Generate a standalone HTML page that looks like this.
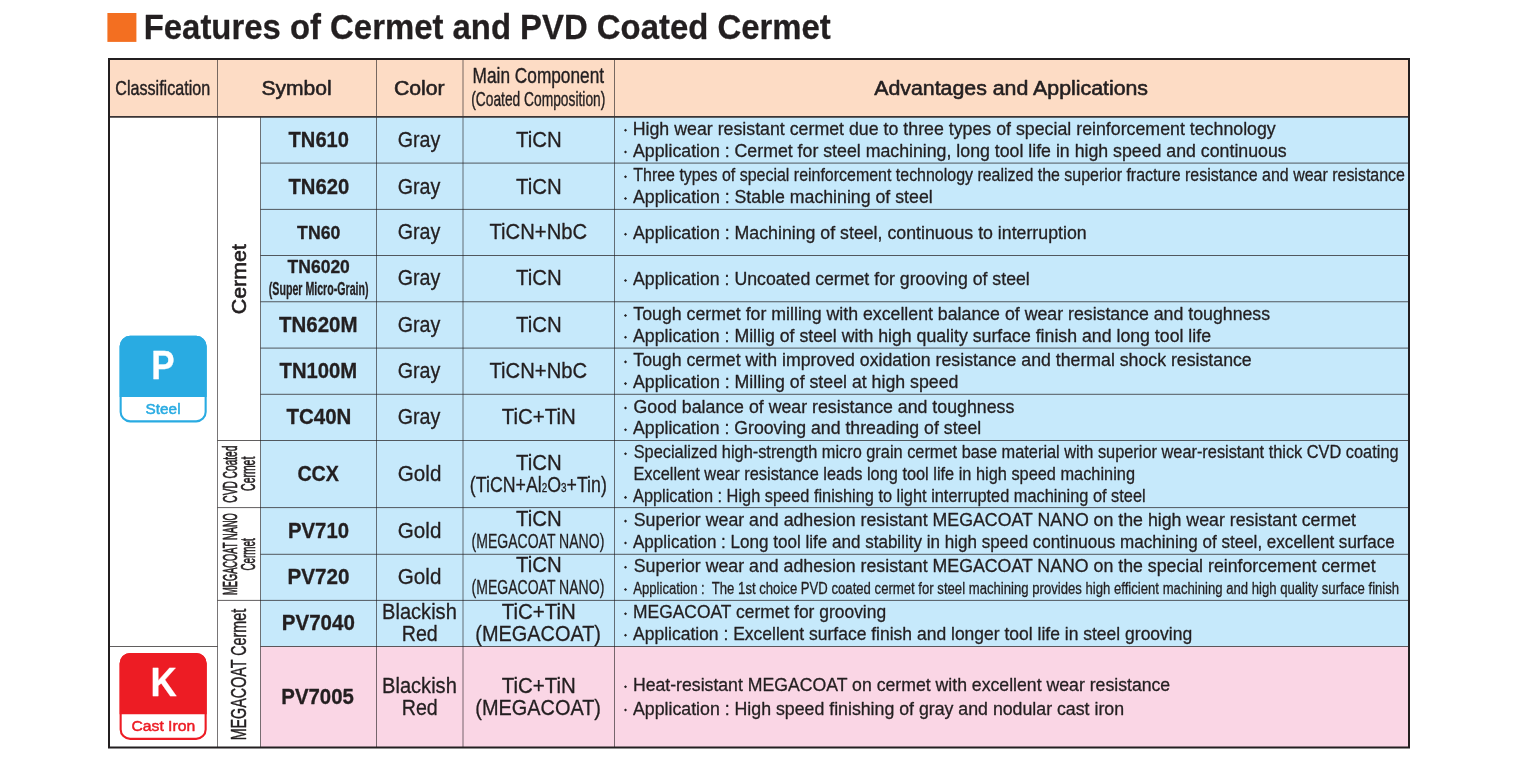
<!DOCTYPE html>
<html><head><meta charset="utf-8"><title>Features of Cermet and PVD Coated Cermet</title>
<style>
html,body{margin:0;padding:0;background:#fff}
body{width:1517px;height:763px;overflow:hidden}
svg{display:block;will-change:transform}
text{font-family:"Liberation Sans",sans-serif;white-space:pre}
</style></head><body>
<svg width="1517" height="763" viewBox="0 0 1517 763">
<g shape-rendering="auto">
<rect x="107.4" y="13" width="29" height="28.9" fill="#f36f21"/>
<rect x="109.0" y="59.0" width="1300.0" height="57.900000000000006" fill="#fddcc5"/>
<rect x="260.5" y="116.9" width="1148.5" height="529.6" fill="#c6e9fb"/>
<rect x="260.5" y="646.5" width="1148.5" height="101" fill="#fad6e5"/>
<path d="M217.5 59V747.5" stroke="#231f20" stroke-width="0.62"/>
<path d="M260.5 116.9V747.5" stroke="#231f20" stroke-width="0.62"/>
<path d="M376.5 59V747.5" stroke="#231f20" stroke-width="0.62"/>
<path d="M463 59V747.5" stroke="#231f20" stroke-width="0.62"/>
<path d="M614.5 59V747.5" stroke="#231f20" stroke-width="0.62"/>
<rect x="109.0" y="116" width="1300.0" height="1.75" fill="#3a3435"/>
<path d="M260.5 163.1H1409" stroke="#231f20" stroke-width="0.72"/>
<path d="M260.5 209.4H1409" stroke="#231f20" stroke-width="0.72"/>
<path d="M260.5 255.5H1409" stroke="#231f20" stroke-width="0.72"/>
<path d="M260.5 301.75H1409" stroke="#231f20" stroke-width="0.72"/>
<path d="M260.5 348.1H1409" stroke="#231f20" stroke-width="0.72"/>
<path d="M260.5 394.3H1409" stroke="#231f20" stroke-width="0.72"/>
<path d="M217.5 440.5H1409" stroke="#231f20" stroke-width="0.72"/>
<path d="M217.5 507.6H1409" stroke="#231f20" stroke-width="0.72"/>
<path d="M260.5 554.3H1409" stroke="#231f20" stroke-width="0.72"/>
<path d="M217.5 600.4H1409" stroke="#231f20" stroke-width="0.72"/>
<path d="M109 646.5H217.5" stroke="#231f20" stroke-width="0.72"/>
<path d="M260.5 646.5H1409" stroke="#231f20" stroke-width="0.72"/>
<rect x="109.0" y="59.0" width="1300.0" height="688.5" fill="none" stroke="#231f20" stroke-width="2"/>
<rect x="120.65" y="336.85" width="85" height="84.5" rx="9.45" fill="#fff" stroke="#29abe2" stroke-width="2.1"/>
<path d="M119.6 396.9V346.3A10.5 10.5 0 0 1 130.1 335.8H196.2A10.5 10.5 0 0 1 206.7 346.3V396.9Z" fill="#29abe2"/>
<rect x="120.65" y="653.95" width="85" height="84.9" rx="9.45" fill="#fff" stroke="#ed1c24" stroke-width="2.1"/>
<path d="M119.6 714.2V663.4A10.5 10.5 0 0 1 130.1 652.9H196.2A10.5 10.5 0 0 1 206.7 663.4V714.2Z" fill="#ed1c24"/>
<path d="M625.5 128.75l1.55 1.55l-1.55 1.55l-1.55 -1.55z" fill="#231f20"/>
<path d="M625.5 150.45l1.55 1.55l-1.55 1.55l-1.55 -1.55z" fill="#231f20"/>
<path d="M625.5 175.15l1.55 1.55l-1.55 1.55l-1.55 -1.55z" fill="#231f20"/>
<path d="M625.5 196.95l1.55 1.55l-1.55 1.55l-1.55 -1.55z" fill="#231f20"/>
<path d="M625.5 232.65l1.55 1.55l-1.55 1.55l-1.55 -1.55z" fill="#231f20"/>
<path d="M625.5 278.95l1.55 1.55l-1.55 1.55l-1.55 -1.55z" fill="#231f20"/>
<path d="M625.5 313.95l1.55 1.55l-1.55 1.55l-1.55 -1.55z" fill="#231f20"/>
<path d="M625.5 335.65l1.55 1.55l-1.55 1.55l-1.55 -1.55z" fill="#231f20"/>
<path d="M625.5 360.35l1.55 1.55l-1.55 1.55l-1.55 -1.55z" fill="#231f20"/>
<path d="M625.5 382.05l1.55 1.55l-1.55 1.55l-1.55 -1.55z" fill="#231f20"/>
<path d="M625.5 406.45l1.55 1.55l-1.55 1.55l-1.55 -1.55z" fill="#231f20"/>
<path d="M625.5 428.15l1.55 1.55l-1.55 1.55l-1.55 -1.55z" fill="#231f20"/>
<path d="M625.5 452.15l1.55 1.55l-1.55 1.55l-1.55 -1.55z" fill="#231f20"/>
<path d="M625.5 495.85l1.55 1.55l-1.55 1.55l-1.55 -1.55z" fill="#231f20"/>
<path d="M625.5 519.55l1.55 1.55l-1.55 1.55l-1.55 -1.55z" fill="#231f20"/>
<path d="M625.5 541.45l1.55 1.55l-1.55 1.55l-1.55 -1.55z" fill="#231f20"/>
<path d="M625.5 565.75l1.55 1.55l-1.55 1.55l-1.55 -1.55z" fill="#231f20"/>
<path d="M625.5 587.95l1.55 1.55l-1.55 1.55l-1.55 -1.55z" fill="#231f20"/>
<path d="M625.5 612.15l1.55 1.55l-1.55 1.55l-1.55 -1.55z" fill="#231f20"/>
<path d="M625.5 633.65l1.55 1.55l-1.55 1.55l-1.55 -1.55z" fill="#231f20"/>
<path d="M625.5 685.15l1.55 1.55l-1.55 1.55l-1.55 -1.55z" fill="#231f20"/>
<path d="M625.5 708.45l1.55 1.55l-1.55 1.55l-1.55 -1.55z" fill="#231f20"/>
</g>
<g fill="#231f20" stroke="#231f20" stroke-width="0.3" stroke-linejoin="round">
<text transform="translate(143.75 38.6) scale(0.9267 1)" font-size="35.49" font-weight="bold">Features of Cermet and PVD Coated Cermet</text>
<text transform="translate(115.32 95.2) scale(0.7763 1)" font-size="20.75" stroke-width="0.45">Classification</text>
<text transform="translate(261.5 95.2) scale(1.0149 1)" font-size="20.75" stroke-width="0.6">Symbol</text>
<text transform="translate(393.88 95.2) scale(1.0241 1)" font-size="20.75" stroke-width="0.6">Color</text>
<text transform="translate(472.6 82.9) scale(0.7974 1)" font-size="21.65" stroke-width="0.4">Main Component</text>
<text transform="translate(471.23 106) scale(0.6697 1)" font-size="20.6" stroke-width="0.4">(Coated Composition)</text>
<text transform="translate(874.2 95.2) scale(1.0282 1)" font-size="20.75" stroke-width="0.6">Advantages and Applications</text>
<text transform="translate(288.6 146.9) scale(0.9416 1)" font-size="21.35" font-weight="bold">TN610</text>
<text transform="translate(288.4 194.3) scale(0.9495 1)" font-size="21.35" font-weight="bold">TN620</text>
<text transform="translate(279 331.7) scale(0.9598 1)" font-size="21.35" font-weight="bold">TN620M</text>
<text transform="translate(279.6 377.5) scale(0.9487 1)" font-size="21.35" font-weight="bold">TN100M</text>
<text transform="translate(286.5 424.1) scale(0.9593 1)" font-size="21.35" font-weight="bold">TC40N</text>
<text transform="translate(297.4 481) scale(0.9230 1)" font-size="21.35" font-weight="bold">CCX</text>
<text transform="translate(287.95 537.8) scale(0.9532 1)" font-size="21.35" font-weight="bold">PV710</text>
<text transform="translate(287.43 584) scale(0.9676 1)" font-size="21.35" font-weight="bold">PV720</text>
<text transform="translate(281.74 629.9) scale(0.9624 1)" font-size="21.35" font-weight="bold">PV7040</text>
<text transform="translate(281.35 703.8) scale(0.9549 1)" font-size="21.35" font-weight="bold">PV7005</text>
<text transform="translate(297.1 238.9) scale(0.9328 1)" font-size="18.95" font-weight="bold">TN60</text>
<text transform="translate(287.6 273.1) scale(0.9462 1)" font-size="18.5" font-weight="bold">TN6020</text>
<text transform="translate(268.8 295.3) scale(0.6095 1)" font-size="17.44" font-weight="bold">(Super Micro-Grain)</text>
<text transform="translate(397.68 146.9) scale(0.9215 1)" font-size="21.35">Gray</text>
<text transform="translate(397.68 194.3) scale(0.9215 1)" font-size="21.35">Gray</text>
<text transform="translate(397.68 238.9) scale(0.9215 1)" font-size="21.35">Gray</text>
<text transform="translate(397.68 285.3) scale(0.9215 1)" font-size="21.35">Gray</text>
<text transform="translate(397.68 331.7) scale(0.9215 1)" font-size="21.35">Gray</text>
<text transform="translate(397.68 377.5) scale(0.9215 1)" font-size="21.35">Gray</text>
<text transform="translate(397.68 424.1) scale(0.9215 1)" font-size="21.35">Gray</text>
<text transform="translate(397.84 481) scale(0.9650 1)" font-size="21.35">Gold</text>
<text transform="translate(397.84 537.8) scale(0.9650 1)" font-size="21.35">Gold</text>
<text transform="translate(397.84 584) scale(0.9650 1)" font-size="21.35">Gold</text>
<text transform="translate(382.06 619.3) scale(0.9406 1)" font-size="21.35">Blackish</text>
<text transform="translate(401.78 640.6) scale(0.9200 1)" font-size="21.35">Red</text>
<text transform="translate(382.06 692.6) scale(0.9406 1)" font-size="21.35">Blackish</text>
<text transform="translate(401.78 714.5) scale(0.9200 1)" font-size="21.35">Red</text>
<text transform="translate(515.95 146.9) scale(0.9569 1)" font-size="21.35">TiCN</text>
<text transform="translate(515.95 194.3) scale(0.9569 1)" font-size="21.35">TiCN</text>
<text transform="translate(489.5 238.9) scale(0.9487 1)" font-size="21.35">TiCN+NbC</text>
<text transform="translate(515.95 285.3) scale(0.9569 1)" font-size="21.35">TiCN</text>
<text transform="translate(515.95 331.7) scale(0.9569 1)" font-size="21.35">TiCN</text>
<text transform="translate(489.5 377.5) scale(0.9487 1)" font-size="21.35">TiCN+NbC</text>
<text transform="translate(501.7 424.1) scale(0.9611 1)" font-size="21.35">TiC+TiN</text>
<text transform="translate(515.95 469.55) scale(0.9569 1)" font-size="21.35">TiCN</text>
<text transform="translate(515.95 526.1) scale(0.9569 1)" font-size="21.35">TiCN</text>
<text transform="translate(471.57 548.1) scale(0.6765 1)" font-size="20.75">(MEGACOAT NANO)</text>
<text transform="translate(515.95 572.3) scale(0.9569 1)" font-size="21.35">TiCN</text>
<text transform="translate(471.57 594.3) scale(0.6765 1)" font-size="20.75">(MEGACOAT NANO)</text>
<text transform="translate(501.7 619.3) scale(0.9611 1)" font-size="21.35">TiC+TiN</text>
<text transform="translate(475.37 640.6) scale(0.9324 1)" font-size="21.35">(MEGACOAT)</text>
<text transform="translate(501.7 692.6) scale(0.9611 1)" font-size="21.35">TiC+TiN</text>
<text transform="translate(475.37 714.5) scale(0.9324 1)" font-size="21.35">(MEGACOAT)</text>
<text transform="translate(632.69 134.8) scale(1.0060 1)" font-size="17.67">High wear resistant cermet due to three types of special reinforcement technology</text>
<text transform="translate(633 156.5) scale(1.0037 1)" font-size="17.67">Application : Cermet for steel machining, long tool life in high speed and continuous</text>
<text transform="translate(633.3 181.2) scale(0.9037 1)" font-size="17.67">Three types of special reinforcement technology realized the superior fracture resistance and wear resistance</text>
<text transform="translate(633 203) scale(1.0035 1)" font-size="17.67">Application : Stable machining of steel</text>
<text transform="translate(633 238.7) scale(1.0041 1)" font-size="17.67">Application : Machining of steel, continuous to interruption</text>
<text transform="translate(633 285) scale(1.0028 1)" font-size="17.67">Application : Uncoated cermet for grooving of steel</text>
<text transform="translate(633.3 320) scale(1.0035 1)" font-size="17.67">Tough cermet for milling with excellent balance of wear resistance and toughness</text>
<text transform="translate(633 341.7) scale(1.0030 1)" font-size="17.67">Application : Millig of steel with high quality surface finish and long tool life</text>
<text transform="translate(633.3 366.4) scale(1.0033 1)" font-size="17.67">Tough cermet with improved oxidation resistance and thermal shock resistance</text>
<text transform="translate(633 388.1) scale(1.0041 1)" font-size="17.67">Application : Milling of steel at high speed</text>
<text transform="translate(633.5 412.5) scale(1.0046 1)" font-size="17.67">Good balance of wear resistance and toughness</text>
<text transform="translate(633 434.2) scale(1.0022 1)" font-size="17.67">Application : Grooving and threading of steel</text>
<text transform="translate(633.7 458.2) scale(0.9254 1)" font-size="17.67">Specialized high-strength micro grain cermet base material with superior wear-resistant thick CVD coating</text>
<text transform="translate(633.47 480.1) scale(0.9254 1)" font-size="17.67">Excellent wear resistance leads long tool life in high speed machining</text>
<text transform="translate(633 501.9) scale(0.9261 1)" font-size="17.67">Application : High speed finishing to light interrupted machining of steel</text>
<text transform="translate(633.7 525.6) scale(1.0047 1)" font-size="17.67">Superior wear and adhesion resistant MEGACOAT NANO on the high wear resistant cermet</text>
<text transform="translate(633 547.5) scale(0.9646 1)" font-size="17.67">Application : Long tool life and stability in high speed continuous machining of steel, excellent surface</text>
<text transform="translate(633.7 571.8) scale(1.0045 1)" font-size="17.67">Superior wear and adhesion resistant MEGACOAT NANO on the special reinforcement cermet</text>
<text transform="translate(633.2 594) scale(0.8018 1)" font-size="16.39">Application :  The 1st choice PVD coated cermet for steel machining provides high efficient machining and high quality surface finish</text>
<text transform="translate(633.01 618.2) scale(0.9866 1)" font-size="17.67">MEGACOAT cermet for grooving</text>
<text transform="translate(633 639.7) scale(0.9906 1)" font-size="17.67">Application : Excellent surface finish and longer tool life in steel grooving</text>
<text transform="translate(632.9 691.2) scale(1.0008 1)" font-size="17.67">Heat-resistant MEGACOAT on cermet with excellent wear resistance</text>
<text transform="translate(633 714.5) scale(1.0038 1)" font-size="17.67">Application : High speed finishing of gray and nodular cast iron</text>
<text transform="translate(151.3 379) scale(0.8480 1)" font-size="41.35" font-weight="bold" fill="#fff" stroke="#fff">P</text>
<text transform="translate(145.6 413.6) scale(1.0200 1)" font-size="15.04" stroke-width="0.5" fill="#29abe2" stroke="#29abe2">Steel</text>
<text transform="translate(150.43 695.8) scale(0.8857 1)" font-size="41.05" font-weight="bold" fill="#fff" stroke="#fff">K</text>
<text transform="translate(131.4 731.1) scale(1.0265 1)" font-size="15.34" stroke-width="0.5" fill="#ed1c24" stroke="#ed1c24">Cast Iron</text>
<text transform="translate(246 314.25) rotate(-90) scale(1.0464 1)" font-size="20.45" stroke-width="0.6">Cermet</text>
<text transform="translate(236.8 502.7) rotate(-90) scale(0.5019 1)" font-size="20.3" stroke-width="0.66">CVD Coated</text>
<text transform="translate(254.8 490.91) rotate(-90) scale(0.5148 1)" font-size="20.3" stroke-width="0.64">Cermet</text>
<text transform="translate(236.9 595.04) rotate(-90) scale(0.4425 1)" font-size="21.05" stroke-width="0.74">MEGACOAT NANO</text>
<text transform="translate(255 570.58) rotate(-90) scale(0.4773 1)" font-size="20.75" stroke-width="0.69">Cermet</text>
<text transform="translate(245.7 740.35) rotate(-90) scale(0.6528 1)" font-size="21.95" stroke-width="0.47">MEGACOAT Cermet</text>
<text transform="translate(469.87 491.5) scale(0.8317 1)" font-size="21.35">(TiCN+Al<tspan font-size="11.96">2</tspan>O<tspan font-size="11.96">3</tspan>+Tin)</text>
</g>
</svg>
</body></html>
